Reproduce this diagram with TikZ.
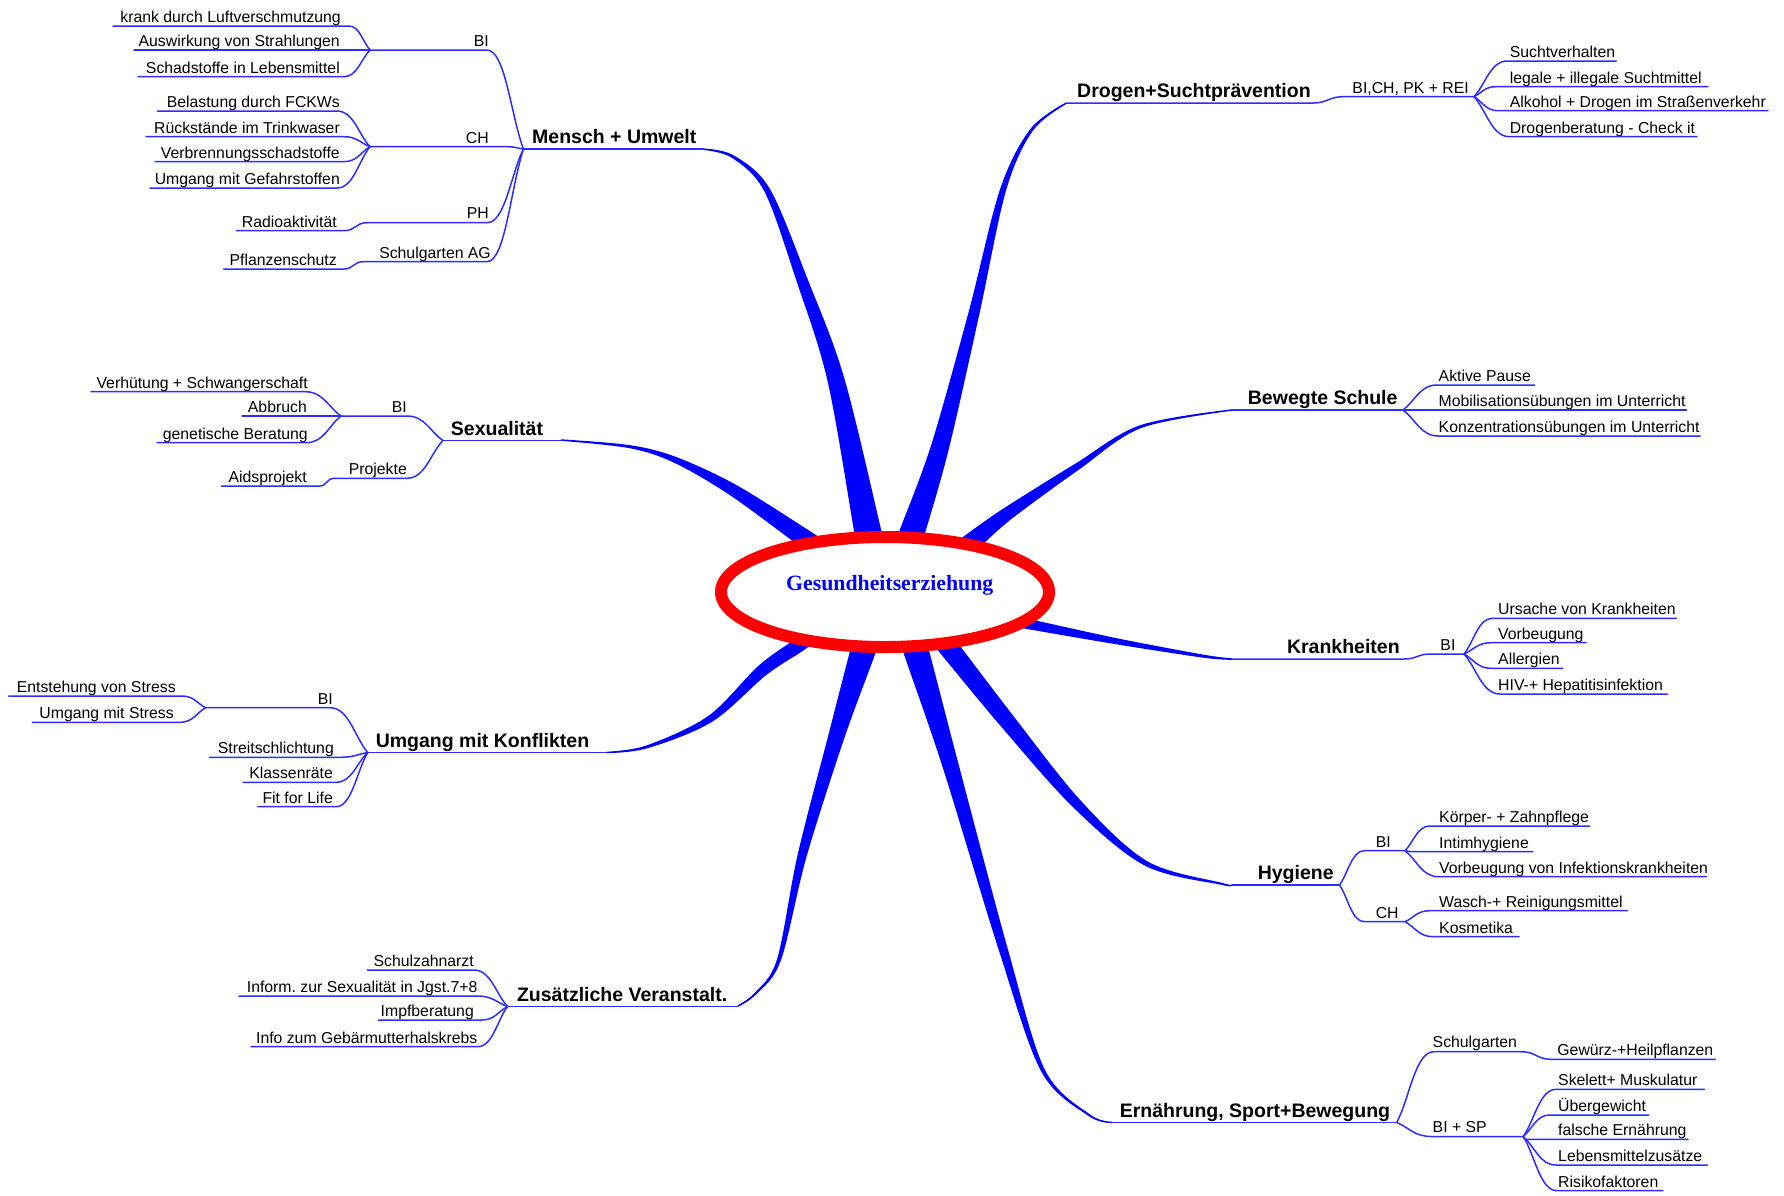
\documentclass[tikz,border=0pt]{standalone}
\usepackage{fontspec}
\setmainfont{Liberation Sans}
\newfontfamily\titlefont{Liberation Serif}
\usetikzlibrary{calc,shapes.geometric}
\definecolor{spokeblue}{RGB}{0,0,255}
\definecolor{linkblue}{RGB}{45,45,255}
\definecolor{ringred}{RGB}{255,0,0}
\tikzset{
  br/.style={draw=linkblue, line width=1.5pt, line cap=round, line join=round},
  spoke/.style={fill=spokeblue},
  leaf/.style={inner sep=0pt, font=\fontsize{15.8}{18}\selectfont},
  topic/.style={inner sep=0pt, font=\fontsize{19.5}{22}\selectfont\bfseries},
  fanin/.style={to path={.. controls ($(\tikztostart)!0.5!(\tikztotarget|-\tikztostart)$) and ($(\tikztotarget)!0.35!(\tikztostart)$) .. (\tikztotarget)}},
  fanout/.style={to path={.. controls ($(\tikztostart)!0.35!(\tikztotarget)$) and ($(\tikztotarget)!0.5!(\tikztostart|-\tikztotarget)$) .. (\tikztotarget)}},
  sconn/.style={to path={.. controls ($(\tikztostart)!0.5!(\tikztotarget|-\tikztostart)$) and ($(\tikztotarget)!0.5!(\tikztostart|-\tikztotarget)$) .. (\tikztotarget)}}
}
% left leaf: name, text, text right x, underline y, ul left, ul right, target, connector style
\newcommand\mmleafL[8]{%
  \node[leaf,anchor=base east] (#1) at (#3,#4-3.6) {#2};
  \coordinate (#1a) at (#5,#4);
  \coordinate (#1b) at (#6,#4);
  \draw[br] (#1a) -- (#1b) to[#8] (#7);}
% right leaf: name, text, text left x, underline y, ul left, ul right, source, connector style
\newcommand\mmleafR[8]{%
  \node[leaf,anchor=base west] (#1) at (#3,#4-3.6) {#2};
  \coordinate (#1a) at (#5,#4);
  \coordinate (#1b) at (#6,#4);
  \draw[br] (#7) to[#8] (#1a) -- (#1b);}
\begin{document}
\begin{tikzpicture}[x=1pt,y=-1pt]
\useasboundingbox (0,0) rectangle (1784,1195);
\fill[white] (0,0) rectangle (1784,1195);

% ---------- tapered spokes ----------
\fill[spoke] plot[smooth,tension=0.55] coordinates {(703.8,150.0) (732.2,158.0) (764.4,191.5) (796.8,281.9) (827.8,382.1) (854.8,535.8) (857.9,550.5)}
  -- plot[smooth,tension=0.55] coordinates {(884.3,544.9) (881.2,530.2) (844.2,377.9) (807.2,278.1) (769.6,188.5) (733.8,155.4) (704.2,148.6)} -- cycle;
\fill[spoke] plot[smooth,tension=0.55] coordinates {(1065.5,102.7) (1030.3,129.1) (1000.1,189.1) (968.7,311.7) (931.3,444.6) (900.1,529.1) (895.5,543.4)}
  -- plot[smooth,tension=0.55] coordinates {(919.3,551.2) (923.9,536.9) (948.7,449.4) (979.3,314.3) (1005.9,190.9) (1032.7,130.9) (1066.5,103.9)} -- cycle;
\fill[spoke] plot[smooth,tension=0.55] coordinates {(560.9,440.8) (629.7,448.2) (674.3,462.8) (729.9,495.1) (797.0,544.2) (809.4,552.6)}
  -- plot[smooth,tension=0.55] coordinates {(819.5,537.7) (807.1,529.3) (736.1,484.9) (676.7,457.2) (630.3,445.2) (561.1,439.3)} -- cycle;
\fill[spoke] plot[smooth,tension=0.55] coordinates {(1231.9,409.3) (1140.0,425.3) (1075.1,463.8) (1004.7,507.7) (968.5,532.9) (956.7,542.1)}
  -- plot[smooth,tension=0.55] coordinates {(967.7,556.3) (979.5,547.1) (1012.3,518.3) (1078.9,469.6) (1141.0,428.1) (1232.1,410.7)} -- cycle;
\fill[spoke] plot[smooth,tension=0.55] coordinates {(1232.1,658.3) (1203.9,654.7) (1118.1,638.5) (1032.5,619.8) (1017.8,617.0)}
  -- plot[smooth,tension=0.55] coordinates {(1015.9,626.8) (1030.6,629.6) (1117.1,644.4) (1203.5,657.7) (1231.9,659.8)} -- cycle;
\fill[spoke] plot[smooth,tension=0.55] coordinates {(1232.1,884.3) (1221.2,882.7) (1147.2,861.2) (1080.6,800.5) (1014.7,717.7) (958.8,644.4) (949.5,632.7)}
  -- plot[smooth,tension=0.55] coordinates {(933.9,645.1) (943.2,656.8) (1002.3,727.9) (1073.4,807.5) (1144.8,865.6) (1220.8,884.7) (1231.9,885.7)} -- cycle;
\fill[spoke] plot[smooth,tension=0.55] coordinates {(1112.2,1121.6) (1089.6,1114.2) (1044.8,1069.6) (1007.3,947.2) (958.7,764.8) (928.6,648.9) (924.3,634.5)}
  -- plot[smooth,tension=0.55] coordinates {(900.3,641.7) (904.6,656.1) (943.3,769.2) (998.7,949.8) (1041.2,1071.4) (1088.4,1115.8) (1111.8,1123.0)} -- cycle;
\fill[spoke] plot[smooth,tension=0.55] coordinates {(738.4,1006.6) (756.8,993.7) (780.9,960.2) (806.4,857.1) (843.7,739.9) (873.8,657.7) (878.3,643.4)}
  -- plot[smooth,tension=0.55] coordinates {(854.7,636.0) (850.2,650.3) (828.3,735.3) (797.6,854.9) (777.1,959.0) (755.3,992.3) (737.6,1005.4)} -- cycle;
\fill[spoke] plot[smooth,tension=0.55] coordinates {(606.8,753.1) (647.5,748.2) (711.9,721.9) (765.5,675.6) (800.0,652.7) (812.3,644.1)}
  -- plot[smooth,tension=0.55] coordinates {(804.3,632.7) (792.0,641.3) (757.8,666.4) (708.1,716.1) (646.5,745.4) (606.6,751.7)} -- cycle;

% ---------- central topic ----------
\node[ellipse, draw=ringred, line width=12pt, fill=white, minimum width=328pt, minimum height=110pt, inner sep=0pt] (hub) at (885,592) {};
\node[inner sep=0pt, anchor=base, text=spokeblue, font=\titlefont\fontsize{21.8}{24}\selectfont\bfseries] (title) at (889.7,590.7) {Gesundheitserziehung};

% ---------- Mensch + Umwelt ----------
\coordinate (mJ) at (523.4,149);
\coordinate (mBIj) at (370,50);
\coordinate (mBIe) at (487,50);
\coordinate (mCHj) at (370,146.7);
\coordinate (mCHe) at (507,146.7);
\coordinate (mPHs) at (367,222.7);
\coordinate (mPHe) at (487,222.7);
\coordinate (mSGs) at (363,261.7);
\coordinate (mSGe) at (487,261.7);
\coordinate (mEnd) at (704,149);
\draw[br] (mBIj) -- (mBIe) to[fanin] (mJ);
\draw[br] (mCHj) -- (mCHe) to[fanin] (mJ);
\draw[br] (mPHs) -- (mPHe) to[fanin] (mJ);
\draw[br] (mSGs) -- (mSGe) to[fanin] (mJ);
\draw[br] (mJ) -- (mEnd);
\node[leaf,anchor=base east] (mBI) at (489,46.5) {BI};
\node[leaf,anchor=base east] (mCH) at (489,143) {CH};
\node[leaf,anchor=base east] (mPH) at (489,218.5) {PH};
\node[leaf,anchor=base east] (mSG) at (491,258) {Schulgarten AG};
\node[topic,anchor=base west] (mensch) at (532,143.5) {Mensch + Umwelt};
\mmleafL{la}{krank durch Luftverschmutzung}{341}{26}{113}{349}{mBIj}{fanin}
\mmleafL{lb}{Auswirkung von Strahlungen}{340}{50}{134}{370}{mBIj}{fanin}
\mmleafL{lc}{Schadstoffe in Lebensmittel}{340}{76.7}{138}{344}{mBIj}{fanin}
\mmleafL{ld}{Belastung durch FCKWs}{340}{111}{157.5}{337}{mCHj}{fanin}
\mmleafL{le}{Rückstände im Trinkwaser}{340}{136.7}{146}{344}{mCHj}{fanin}
\mmleafL{lf}{Verbrennungsschadstoffe}{340}{161.7}{155}{344}{mCHj}{fanin}
\mmleafL{lg}{Umgang mit Gefahrstoffen}{340}{188}{150}{337}{mCHj}{fanin}
\mmleafL{lh}{Radioaktivität}{337}{230.7}{236.5}{344}{mPHs}{sconn}
\mmleafL{li}{Pflanzenschutz}{337}{269}{223.6}{344}{mSGs}{sconn}

% ---------- Sexualität ----------
\coordinate (sJ) at (442.9,440.5);
\coordinate (sEnd) at (561,440.5);
\coordinate (sBIj) at (341,416);
\coordinate (sBIe) at (407,416);
\coordinate (sPRj) at (334,478.3);
\coordinate (sPRe) at (407,478.3);
\draw[br] (sBIj) -- (sBIe) to[fanin] (sJ);
\draw[br] (sPRj) -- (sPRe) to[fanin] (sJ);
\draw[br] (sJ) -- (sEnd);
\node[leaf,anchor=base east] (sBI) at (407,412) {BI};
\node[leaf,anchor=base east] (sPR) at (407,474.5) {Projekte};
\node[topic,anchor=base west] (sex) at (450.7,435) {Sexualität};
\mmleafL{sa}{Verhütung + Schwangerschaft}{308}{391.7}{91}{305.4}{sBIj}{fanin}
\mmleafL{sb}{Abbruch}{307}{416}{242}{341}{sBIj}{fanin}
\mmleafL{sc}{genetische Beratung}{308}{442.7}{157}{306.4}{sBIj}{fanin}
\mmleafL{sd}{Aidsprojekt}{307}{486}{221.4}{319.6}{sPRj}{sconn}

% ---------- Umgang mit Konflikten ----------
\coordinate (uJ) at (367.7,752.5);
\coordinate (uEnd) at (606.7,752.5);
\coordinate (uBIj) at (205.6,707.7);
\coordinate (uBIe) at (330,707.7);
\draw[br] (uBIj) -- (uBIe) to[fanin] (uJ);
\draw[br] (uJ) -- (uEnd);
\node[leaf,anchor=base east] (uBI) at (333,704) {BI};
\node[topic,anchor=base west] (umgang) at (375.6,747.5) {Umgang mit Konflikten};
\mmleafL{ua}{Entstehung von Stress}{176}{696}{8.7}{182}{uBIj}{fanin}
\mmleafL{ub}{Umgang mit Stress}{174}{722.3}{32.4}{180}{uBIj}{fanin}
\mmleafL{uc}{Streitschlichtung}{334}{757.3}{209.6}{340}{uJ}{fanin}
\mmleafL{ud}{Klassenräte}{333}{782.3}{243}{336}{uJ}{fanin}
\mmleafL{ue}{Fit for Life}{333}{806.7}{257.8}{336}{uJ}{fanin}

% ---------- Zusätzliche Veranstalt. ----------
\coordinate (zJ) at (507.5,1006.5);
\coordinate (zEnd) at (738,1006.5);
\draw[br] (zJ) -- (zEnd);
\node[topic,anchor=base west] (zus) at (516.8,1001) {Zusätzliche Veranstalt.};
\mmleafL{za}{Schulzahnarzt}{474}{970}{367.4}{474}{zJ}{fanin}
\mmleafL{zb}{Inform.\ zur Sexualität in Jgst.7+8}{477.6}{996}{239}{477.6}{zJ}{fanin}
\mmleafL{zc}{Impfberatung}{474}{1020}{378.4}{481.7}{zJ}{fanin}
\mmleafL{zd}{Info zum Gebärmutterhalskrebs}{477.6}{1046.7}{251}{477.6}{zJ}{fanin}

% ---------- Drogen+Suchtprävention ----------
\coordinate (dStart) at (1066,103);
\coordinate (dEnd) at (1312.8,103);
\coordinate (dBIs) at (1343.6,96.7);
\coordinate (dJ) at (1474,96.7);
\draw[br] (dStart) -- (dEnd) to[sconn] (dBIs) -- (dJ);
\node[topic,anchor=base west] (drogen) at (1077,97.5) {Drogen+Suchtprävention};
\node[leaf,anchor=base east] (dBI) at (1469,93.5) {BI,CH, PK + REI};
\mmleafR{da}{Suchtverhalten}{1509.6}{61}{1507}{1616.4}{dJ}{fanout}
\mmleafR{db}{legale + illegale Suchtmittel}{1509.6}{86.7}{1495.4}{1708}{dJ}{fanout}
\mmleafR{dc}{Alkohol + Drogen im Straßenverkehr}{1509.6}{110.7}{1497.8}{1768}{dJ}{fanout}
\mmleafR{dd}{Drogenberatung - Check it}{1509.6}{136.7}{1509.6}{1697}{dJ}{fanout}

% ---------- Bewegte Schule ----------
\coordinate (bStart) at (1232,410);
\coordinate (bJ) at (1403,410);
\draw[br] (bStart) -- (bJ);
\node[topic,anchor=base west] (bewegt) at (1247.7,404.5) {Bewegte Schule};
\mmleafR{ba}{Aktive Pause}{1438.5}{385}{1436.7}{1534.6}{bJ}{fanout}
\mmleafR{bb}{Mobilisationsübungen im Unterricht}{1438.5}{410}{1403}{1686.5}{bJ}{fanout}
\mmleafR{bc}{Konzentrationsübungen im Unterricht}{1438.5}{436}{1438.5}{1700}{bJ}{fanout}

% ---------- Krankheiten ----------
\coordinate (kStart) at (1232,659);
\coordinate (kEnd) at (1403.8,659);
\coordinate (kBIs) at (1430.6,654);
\coordinate (kJ) at (1464,654);
\draw[br] (kStart) -- (kEnd) to[sconn] (kBIs) -- (kJ);
\node[topic,anchor=base west] (krank) at (1286.8,653.5) {Krankheiten};
\node[leaf,anchor=base east] (kBI) at (1455.6,650.5) {BI};
\mmleafR{ka}{Ursache von Krankheiten}{1498}{618.3}{1492.4}{1676.4}{kJ}{fanout}
\mmleafR{kb}{Vorbeugung}{1498}{642.7}{1490.8}{1586}{kJ}{fanout}
\mmleafR{kc}{Allergien}{1498}{668.3}{1490.8}{1562.7}{kJ}{fanout}
\mmleafR{kd}{HIV-+ Hepatitisinfektion}{1498}{694}{1500}{1667.4}{kJ}{fanout}

% ---------- Hygiene ----------
\coordinate (hStart) at (1232,885);
\coordinate (hJ) at (1339.5,885);
\coordinate (hBIs) at (1364.3,850.7);
\coordinate (hBIj) at (1405,850.7);
\coordinate (hCHs) at (1364.3,921.7);
\coordinate (hCHj) at (1405,921.7);
\draw[br] (hStart) -- (hJ);
\draw[br] (hJ) to[fanout] (hBIs) -- (hBIj);
\draw[br] (hJ) to[fanout] (hCHs) -- (hCHj);
\node[topic,anchor=base west] (hyg) at (1257.6,879.5) {Hygiene};
\node[leaf,anchor=base west] (hBI) at (1375.6,847) {BI};
\node[leaf,anchor=base west] (hCH) at (1375.6,918) {CH};
\mmleafR{ha}{Körper- + Zahnpflege}{1439}{826}{1429.6}{1589.7}{hBIj}{fanout}
\mmleafR{hb}{Intimhygiene}{1439}{851.7}{1413.7}{1532.8}{hBIj}{fanout}
\mmleafR{hc}{Vorbeugung von Infektionskrankheiten}{1439}{876.7}{1438.5}{1706.3}{hBIj}{fanout}
\mmleafR{hd}{Wasch-+ Reinigungsmittel}{1439}{910.7}{1429.6}{1627.5}{hCHj}{fanout}
\mmleafR{he}{Kosmetika}{1439}{936.7}{1433}{1519}{hCHj}{fanout}

% ---------- Ernährung, Sport+Bewegung ----------
\coordinate (eStart) at (1112,1122.5);
\coordinate (eJ) at (1396.7,1122.5);
\coordinate (eSGs) at (1433.8,1051.7);
\coordinate (eSGe) at (1521,1051.7);
\coordinate (eBSs) at (1431.6,1136.5);
\coordinate (eBSj) at (1523.2,1136.5);
\draw[br] (eStart) -- (eJ);
\draw[br] (eJ) to[fanout] (eSGs) -- (eSGe);
\draw[br] (eJ) to[fanout] (eBSs) -- (eBSj);
\node[topic,anchor=base west] (ern) at (1119.6,1117.5) {Ernährung, Sport+Bewegung};
\node[leaf,anchor=base west] (eSG) at (1432.5,1047) {Schulgarten};
\node[leaf,anchor=base west] (eBS) at (1432.5,1132.5) {BI + SP};
\mmleafR{ea}{Gewürz-+Heilpflanzen}{1557.2}{1059.3}{1551.6}{1715.2}{eSGe}{sconn}
\mmleafR{eb}{Skelett+ Muskulatur}{1558}{1089.3}{1556}{1704.3}{eBSj}{fanout}
\mmleafR{ec}{Übergewicht}{1558}{1115}{1549.4}{1648.9}{eBSj}{fanout}
\mmleafR{ed}{falsche Ernährung}{1558}{1139.3}{1525.4}{1688}{eBSj}{fanout}
\mmleafR{ee}{Lebensmittelzusätze}{1558}{1165}{1556}{1707.3}{eBSj}{fanout}
\mmleafR{ef}{Risikofaktoren}{1558}{1190.7}{1557}{1662.8}{eBSj}{fanout}
\end{tikzpicture}
\end{document}
